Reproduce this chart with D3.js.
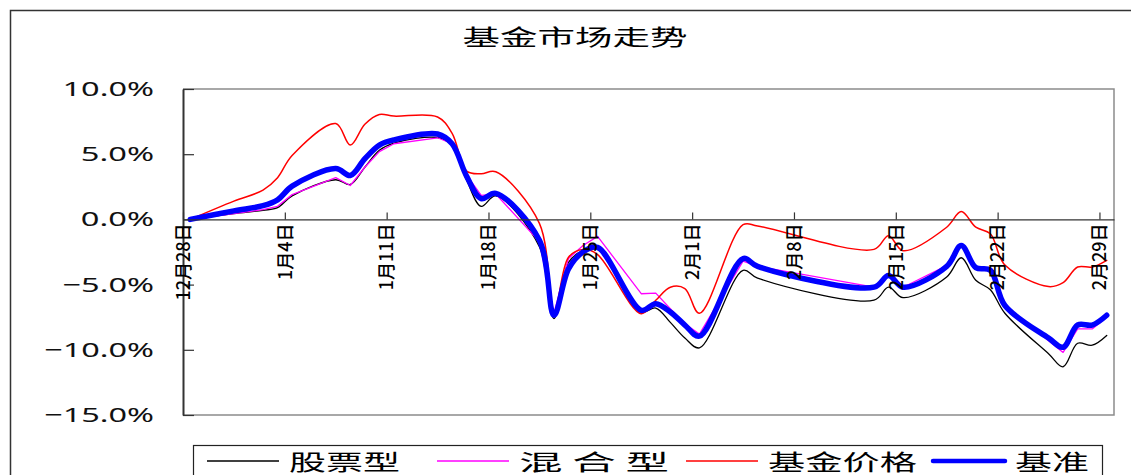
<!DOCTYPE html>
<html>
<head>
<meta charset="utf-8">
<script src="https://cdn.jsdelivr.net/npm/d3@7"></script>
<style>
  body { margin: 0; background: #fff; }
  svg { display: block; font-family: "Noto Sans CJK SC", "Noto Sans", sans-serif; }
</style>
</head>
<body>
<svg id="chart" width="1131" height="475"></svg>
<script>
// trading days shown in the chart
const dates = ["2007-12-28","2007-12-31","2008-01-02","2008-01-03","2008-01-04",
  "2008-01-07","2008-01-08","2008-01-09","2008-01-10","2008-01-11",
  "2008-01-14","2008-01-15","2008-01-16","2008-01-17","2008-01-18",
  "2008-01-21","2008-01-22","2008-01-23","2008-01-24","2008-01-25",
  "2008-01-28","2008-01-29","2008-01-30","2008-01-31","2008-02-01",
  "2008-02-04","2008-02-05","2008-02-13","2008-02-14","2008-02-15",
  "2008-02-18","2008-02-19","2008-02-20","2008-02-21","2008-02-22",
  "2008-02-25","2008-02-26","2008-02-27","2008-02-28","2008-02-29"];

// cumulative change, %
const stockFund = [0, 0.45, 0.7, 0.9, 1.8, 3.04, 2.68, 4.0, 5.3, 5.85,
  6.28, 5.7, 3.0, 1.0, 1.8, -2.1, -7.6, -3.3, -2.4, -2.3,
  -7.1, -6.8, -7.9, -9.1, -9.85, -3.9, -4.5, -6.2, -5.19, -6.0,
  -4.42, -2.94, -4.67, -5.4, -7.2, -10.3, -11.3, -9.5, -9.65, -8.9];
const mixedFund = [0, 0.45, 0.75, 1.0, 1.9, 3.2, 2.6, 4.0, 5.2, 5.8,
  6.26, 5.8, 3.4, 1.84, 1.95, -1.7, -7.2, -3.0, -2.0, -1.3,
  -5.7, -5.65, -6.85, -8.0, -8.8, -3.2, -3.6, -5.2, -4.3, -5.2,
  -3.55, -2.0, -3.75, -3.9, -6.6, -9.3, -10.2, -8.4, -8.4, -7.5];
const fundPrice = [0, 1.4, 2.25, 3.2, 4.9, 7.35, 5.7, 7.3, 8.05, 7.92,
  7.85, 6.6, 3.7, 3.5, 3.65, -0.3, -7.2, -2.9, -2.3, -2.7,
  -7.23, -6.2, -5.2, -5.3, -7.2, -0.4, -0.5, -2.3, -1.25, -2.4,
  -0.6, 0.6, -0.6, -1.1, -3.5, -5.15, -4.85, -3.65, -3.65, -3.14];
const benchmark = [0, 0.65, 1.05, 1.5, 2.55, 3.9, 3.37, 4.65, 5.7, 6.1,
  6.55, 5.8, 3.3, 1.6, 2.0, -1.6, -7.35, -3.8, -2.5, -2.15,
  -6.97, -6.46, -7.1, -8.1, -8.95, -3.0, -3.6, -5.2, -4.3, -5.2,
  -3.6, -2.0, -3.7, -3.9, -6.6, -9.1, -9.8, -8.1, -8.1, -7.35];

const seriesNames = ["股票型", "混 合 型", "基金价格", "基准"];
const yTicks = [10, 5, 0, -5, -10, -15];
const tickDates = ["2007-12-28","2008-01-04","2008-01-11","2008-01-18","2008-01-25",
  "2008-02-01","2008-02-08","2008-02-15","2008-02-22","2008-02-29"];

const parse = d3.timeParse("%Y-%m-%d");
const svg = d3.select("#chart");
const cjk = "'Noto Sans CJK SC', sans-serif";

const plot = { left: 183, top: 89, right: 1114, bottom: 415 };

const x = d3.scaleTime()
  .domain([parse("2007-12-28"), parse("2008-03-01")])
  .range([plot.left, plot.right]);
const y = d3.scaleLinear().domain([-15, 10]).range([plot.bottom, plot.top]);

// outer frame
svg.append("rect").attr("x", 10.5).attr("y", 10.5).attr("width", 1140).attr("height", 480)
  .attr("fill", "none").attr("stroke", "#333").attr("stroke-width", 1.5);

// title
svg.append("text").attr("x", 575).attr("y", 45).attr("text-anchor", "middle")
  .attr("font-size", 22).attr("textLength", 225).attr("lengthAdjust", "spacingAndGlyphs")
  .text("基金市场走势");

// plot frame (top / right / bottom)
svg.append("path")
  .attr("d", `M${plot.left},${plot.top}H${plot.right}V${plot.bottom}H${plot.left}`)
  .attr("fill", "none").attr("stroke", "#8c8c8c").attr("stroke-width", 1.5);

// y axis, ticks inside
const yAxis = d3.axisLeft(y).tickValues(yTicks).tickSizeInner(-11).tickSizeOuter(0)
  .tickPadding(29).tickFormat(d => d3.format(".1f")(d) + "%");
const gy = svg.append("g").attr("transform", `translate(${plot.left},0)`).call(yAxis);
gy.select(".domain").attr("stroke", "#333").attr("stroke-width", 2);
gy.selectAll(".tick line").attr("stroke", "#333").attr("stroke-width", 1.2);
gy.selectAll(".tick text")
  .attr("font-size", 20).attr("fill", "#111")
  .attr("font-family", "'Noto Sans', sans-serif")
  .attr("textLength", function () { return this.textContent.length * 18.3; })
  .attr("lengthAdjust", "spacingAndGlyphs");

// series
const pointX = (d) => x(d3.timeHour.offset(parse(d), 12));
const series = [
  { values: stockFund, color: "#000000", width: 1.3, curve: d3.curveCatmullRom },
  { values: mixedFund, color: "#ff00ff", width: 1.3, curve: d3.curveLinear },
  { values: fundPrice, color: "#ff0000", width: 1.5, curve: d3.curveCatmullRom },
  { values: benchmark, color: "#0000ff", width: 5.5, curve: d3.curveCatmullRom }
];

series.forEach(s => {
  const line = d3.line()
    .x((d, i) => pointX(dates[i]))
    .y(d => y(d))
    .curve(s.curve);
  svg.append("path").datum(s.values)
    .attr("d", line)
    .attr("fill", "none")
    .attr("stroke", s.color)
    .attr("stroke-width", s.width)
    .attr("stroke-linejoin", "round")
    .attr("stroke-linecap", "round");
});

// x axis along the zero line, ticks pointing up, labels drawn over the lines
const xAxis = d3.axisBottom(x).tickValues(tickDates.map(parse))
  .tickSizeInner(-7).tickSizeOuter(0).tickFormat(d3.timeFormat("%-m月%-d日"));
const gx = svg.append("g").attr("transform", `translate(0,${y(0)})`).call(xAxis)
  .attr("font-family", cjk);
gx.select(".domain").attr("stroke", "#333").attr("stroke-width", 1.2);
gx.selectAll(".tick line").attr("stroke", "#333").attr("stroke-width", 1.2);
gx.selectAll(".tick text")
  .attr("transform", "rotate(-90)")
  .attr("x", -4).attr("y", 0).attr("dy", "0.35em")
  .attr("text-anchor", "end")
  .attr("font-family", cjk)
  .attr("font-weight", 500)
  .attr("font-size", 18).attr("fill", "#000");

// legend
svg.append("rect").attr("x", 193.5).attr("y", 445.5).attr("width", 909).attr("height", 40)
  .attr("fill", "#fff").attr("stroke", "#222").attr("stroke-width", 1.2);

const legendX = [207, 437, 686, 933];
const legendTextLen = [111, 150, 149, 74];
series.forEach((s, i) => {
  const g = svg.append("g").attr("transform", `translate(${legendX[i]},461)`);
  g.append("line").attr("x1", 0).attr("x2", 72)
    .attr("stroke", s.color).attr("stroke-width", s.width > 2 ? 4.5 : 1.5)
    .attr("stroke-linecap", s.width > 2 ? "round" : "butt");
  g.append("text").attr("x", 82).attr("y", 9).attr("font-size", 22)
    .attr("textLength", legendTextLen[i]).attr("lengthAdjust", "spacingAndGlyphs")
    .text(seriesNames[i]);
});
</script>
</body>
</html>
